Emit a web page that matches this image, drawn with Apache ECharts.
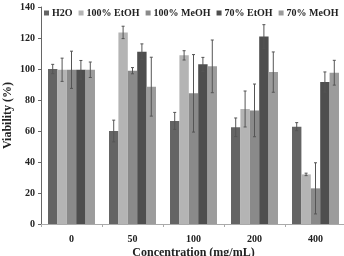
<!DOCTYPE html>
<html>
<head>
<meta charset="utf-8">
<script src="https://cdn.jsdelivr.net/npm/echarts@6/dist/echarts.min.js"></script>
<style>
  html, body { margin: 0; padding: 0; background: #fff; }
  #chart { width: 344px; height: 256px; }
</style>
</head>
<body>
<div id="chart"></div>
<script>
// 浓度分类与各组数值
const categories = ['0', '50', '100', '200', '400'];
const seriesNames = ['H2O', '100% EtOH', '100% MeOH', '70% EtOH', '70% MeOH'];
const h2o = [100, 60, 66.5, 62.4, 62.8];
const etoh100 = [99.5, 123.6, 108.8, 74.2, 32];
const meoh100 = [99.5, 98.9, 84.3, 73.3, 23];
const etoh70 = [99.5, 111.2, 103, 121, 91.6];
const meoh70 = [99.5, 88.6, 101.7, 98, 97.6];
// 误差 (±)
const h2oErr = [3, 7, 5.5, 6, 2.6];
const etoh100Err = [7.5, 4, 3, 11.6, 0.8];
const meoh100Err = [12, 2, 25, 17, 16.5];
const etoh70Err = [6, 5, 4.5, 7.6, 6.5];
const meoh70Err = [5, 19, 17, 13, 8];
const yTicks = [0, 20, 40, 60, 80, 100, 120, 140];

const colors = ['#646464', '#b4b4b4', '#8a8a8a', '#4e4e4e', '#9c9c9c'];
const allValues = [h2o, etoh100, meoh100, etoh70, meoh70];
const allErrs = [h2oErr, etoh100Err, meoh100Err, etoh70Err, meoh70Err];

const CAT_GAP = 0.23;
const font = 'Liberation Serif, Times New Roman, serif';

const chart = echarts.init(document.getElementById('chart'));

function errorRender(si) {
    return function (params, api) {
        const ci = api.value(0);
        const v = api.value(1);
        const e = api.value(2);
        const band = api.size([1, 0])[0];
        const barW = band * (1 - CAT_GAP) / seriesNames.length;
        const off = (si - (seriesNames.length - 1) / 2) * barW;
        const top = api.coord([ci, v + e]);
        const bot = api.coord([ci, v - e]);
        const x = top[0] + off;
        const style = { stroke: '#555', lineWidth: 1 };
        return {
            type: 'group',
            children: [
                { type: 'line', shape: { x1: x, y1: top[1], x2: x, y2: bot[1] }, style },
                { type: 'line', shape: { x1: x - 1.5, y1: top[1], x2: x + 1.5, y2: top[1] }, style },
                { type: 'line', shape: { x1: x - 1.5, y1: bot[1], x2: x + 1.5, y2: bot[1] }, style },
            ],
        };
    };
}

const series = [];
seriesNames.forEach((name, si) => {
    series.push({
        name,
        type: 'bar',
        data: allValues[si],
        itemStyle: { color: colors[si] },
        barGap: '0%',
        barCategoryGap: (CAT_GAP * 100) + '%',
        z: 2,
    });
});
seriesNames.forEach((name, si) => {
    series.push({
        type: 'custom',
        renderItem: errorRender(si),
        data: allValues[si].map((v, i) => [i, v, allErrs[si][i]]),
        z: 5,
        silent: true,
    });
});

chart.setOption({
    animation: false,
    textStyle: { fontFamily: font },
    legend: {
        data: seriesNames,
        left: 44,
        top: 8,
        width: 330,
        padding: 0,
        itemWidth: 5,
        itemHeight: 5,
        itemGap: 6,
        icon: 'rect',
        textStyle: { fontFamily: font, fontWeight: 'bold', fontSize: 10, color: '#222', padding: [0, 0, 0, -2] },
    },
    grid: { left: 41, right: -2, top: 7, bottom: 32, outerBoundsMode: 'none' },
    xAxis: {
        type: 'category',
        data: categories,
        name: 'Concentration (mg/mL)',
        nameLocation: 'middle',
        nameGap: 23,
        nameMoveOverlap: false,
        nameTextStyle: { fontFamily: font, fontWeight: 'bold', fontSize: 12, color: '#222' },
        axisLine: { lineStyle: { color: '#aaa' } },
        axisTick: { show: true, length: 3, lineStyle: { color: '#aaa' } },
        axisLabel: { fontFamily: font, fontWeight: 'bold', fontSize: 10, color: '#222', margin: 10 },
    },
    yAxis: {
        type: 'value',
        min: yTicks[0],
        max: yTicks[yTicks.length - 1],
        interval: 20,
        name: 'Viability (%)',
        nameLocation: 'middle',
        nameGap: 27,
        nameMoveOverlap: false,
        nameTextStyle: { fontFamily: font, fontWeight: 'bold', fontSize: 12, color: '#222' },
        axisLine: { show: true, lineStyle: { color: '#666' } },
        axisTick: { show: true, length: 3, lineStyle: { color: '#666' } },
        axisLabel: { fontFamily: font, fontWeight: 'bold', fontSize: 10, color: '#222', margin: 6 },
        splitLine: { show: false },
    },
    series,
});
</script>
</body>
</html>
